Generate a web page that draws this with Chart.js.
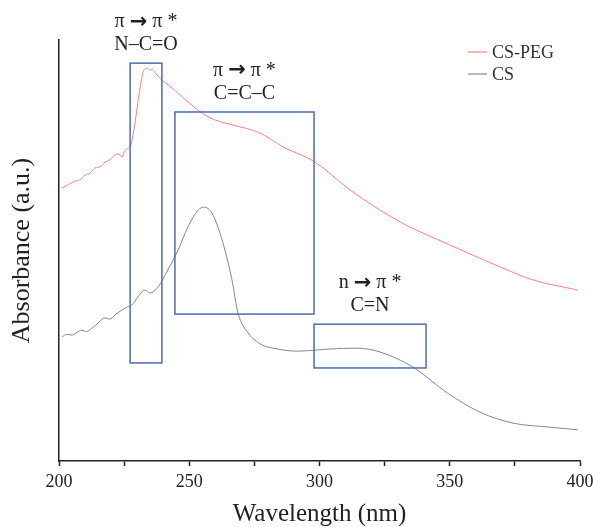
<!DOCTYPE html>
<html>
<head>
<meta charset="utf-8">
<script src="https://cdn.jsdelivr.net/npm/chart.js@4.4.1/dist/chart.umd.min.js"></script>
<style>
  html, body { margin: 0; padding: 0; background: #fff; }
  #wrap { width: 593px; height: 527px; }
</style>
</head>
<body>
<div id="wrap"><canvas id="myChart"></canvas></div>
<script>
// CS-PEG spectrum (wavelength nm, absorbance a.u.)
const pegWave = [201.0, 203.5, 206.1, 208.0, 210.0, 212.0, 213.8, 215.8, 217.7, 219.6, 221.5, 223.0, 224.2, 225.3, 227.6, 229.2, 231.1, 232.3, 233.8, 235.0, 235.7, 236.9, 239.5, 243.4, 249.5, 256.0, 259.9, 266.8, 277.2, 286.0, 298.3, 311.7, 330.9, 350.1, 369.3, 382.0, 399.2];
const pegAbs  = [0.648, 0.656, 0.665, 0.668, 0.679, 0.684, 0.696, 0.699, 0.710, 0.716, 0.727, 0.729, 0.722, 0.738, 0.751, 0.805, 0.886, 0.924, 0.933, 0.928, 0.931, 0.922, 0.905, 0.886, 0.853, 0.822, 0.810, 0.798, 0.779, 0.746, 0.710, 0.644, 0.568, 0.513, 0.461, 0.430, 0.406];

// CS spectrum
const csWave = [201.2, 203.0, 205.0, 207.0, 208.8, 210.5, 212.7, 214.0, 215.0, 217.7, 219.5, 221.5, 225.3, 228.0, 233.0, 234.9, 238.0, 241.8, 245.7, 249.5, 253.4, 255.7, 258.7, 261.0, 263.7, 266.4, 268.7, 272.6, 277.9, 282.2, 291.4, 304.0, 314.4, 323.2, 335.9, 349.0, 361.6, 374.3, 387.3, 399.2];
const csAbs  = [0.295, 0.301, 0.299, 0.306, 0.311, 0.307, 0.316, 0.322, 0.328, 0.340, 0.337, 0.347, 0.363, 0.371, 0.406, 0.399, 0.413, 0.454, 0.501, 0.556, 0.596, 0.603, 0.589, 0.556, 0.501, 0.430, 0.352, 0.304, 0.276, 0.268, 0.261, 0.266, 0.268, 0.259, 0.223, 0.162, 0.116, 0.090, 0.081, 0.074];

const seriesNames = ['CS-PEG', 'CS'];

// highlighted transition regions
const boxFrom  = ['π', 'π', 'n'];
const boxTo    = ['π *', 'π *', 'π *'];
const boxGroups = ['N–C=O', 'C=C–C', 'C=N'];
const boxWaveFrom = [227.3, 244.5, 297.9];
const boxWaveTo   = [239.5, 297.9, 340.9];
const boxAbsLow   = [0.233, 0.349, 0.221];
const boxAbsHigh  = [0.945, 0.829, 0.325];

const xTicks = [200, 250, 300, 350, 400];

const toPoints = (xs, ys) => xs.map((x, i) => ({ x: x, y: ys[i] }));

const serif = "'Liberation Serif', 'Times New Roman', serif";
const arrowFont = "bold 21px 'DejaVu Sans', sans-serif";

const regionPlugin = {
    id: 'regions',
    afterDatasetsDraw(chart) {
        const { ctx, scales: { x, y } } = chart;
        ctx.save();
        ctx.strokeStyle = '#4a6db3';
        ctx.lineWidth = 1.5;
        boxGroups.forEach((group, i) => {
            const x0 = x.getPixelForValue(boxWaveFrom[i]);
            const x1 = x.getPixelForValue(boxWaveTo[i]);
            const y0 = y.getPixelForValue(boxAbsHigh[i]);
            const y1 = y.getPixelForValue(boxAbsLow[i]);
            ctx.strokeRect(x0, y0, x1 - x0, y1 - y0);

            const cx = (x0 + x1) / 2;
            ctx.fillStyle = '#222';
            ctx.textBaseline = 'middle';

            // "a → b" with a heavy arrow
            ctx.font = `20px ${serif}`;
            const left = boxFrom[i] + ' ';
            const right = ' ' + boxTo[i];
            const wl = ctx.measureText(left).width;
            const wr = ctx.measureText(right).width;
            ctx.font = arrowFont;
            const wa = ctx.measureText('→').width;
            let sx = cx - (wl + wa + wr) / 2;
            const ty = y0 - 41;
            ctx.textAlign = 'left';
            ctx.font = `20px ${serif}`;
            ctx.fillText(left, sx, ty);
            ctx.font = arrowFont;
            ctx.fillText('→', sx + wl, ty);
            ctx.font = `20px ${serif}`;
            ctx.fillText(right, sx + wl + wa, ty);

            ctx.textAlign = 'center';
            ctx.font = `20px ${serif}`;
            ctx.fillText(group, cx, y0 - 18);
        });

        // legend
        const lx = chart.chartArea.right - 112;
        const ly = chart.chartArea.top + 12;
        ctx.font = `18px ${serif}`;
        ctx.textAlign = 'left';
        chart.data.datasets.forEach((ds, i) => {
            const yy = ly + i * 22;
            ctx.strokeStyle = ds.borderColor;
            ctx.lineWidth = 1.2;
            ctx.beginPath();
            ctx.moveTo(lx, yy);
            ctx.lineTo(lx + 19, yy);
            ctx.stroke();
            ctx.fillStyle = '#333';
            ctx.fillText(ds.label, lx + 24, yy + 1);
        });
        ctx.restore();
    }
};

const ctx = document.getElementById('myChart');

new Chart(ctx, {
    type: 'line',
    data: {
        datasets: [{
            label: seriesNames[0],
            data: toPoints(pegWave, pegAbs),
            borderColor: 'rgb(255, 128, 128)',
            borderWidth: 1,
            pointRadius: 0,
            tension: 0.3,
            cubicInterpolationMode: 'monotone'
        }, {
            label: seriesNames[1],
            data: toPoints(csWave, csAbs),
            borderColor: 'rgb(135, 135, 135)',
            borderWidth: 1,
            pointRadius: 0,
            tension: 0.3,
            cubicInterpolationMode: 'monotone'
        }]
    },
    options: {
        responsive: true,
        maintainAspectRatio: false,
        animation: false,
        layout: { padding: { top: 40, left: 9, right: 13, bottom: 0 } },
        plugins: {
            legend: { display: false },
            tooltip: { enabled: false }
        },
        scales: {
            x: {
                type: 'linear',
                min: 200,
                max: 400,
                afterFit: (s) => { s.height = 66; s.paddingLeft = 0; s.paddingRight = 0; },
                border: { color: '#222', width: 1.5 },
                grid: { drawOnChartArea: false, tickLength: 5, tickColor: '#222', tickWidth: 1.5 },
                ticks: {
                    stepSize: 25,
                    padding: 5,
                    color: '#222',
                    maxRotation: 0,
                    font: { family: serif, size: 18 },
                    callback: (v) => xTicks.includes(v) ? v : ''
                },
                title: {
                    display: true,
                    text: 'Wavelength (nm)',
                    color: '#222',
                    font: { family: serif, size: 25, lineHeight: 1 },
                    padding: { top: 9, bottom: 0 }
                }
            },
            y: {
                min: 0,
                max: 1,
                afterFit: (s) => { s.width = 50; },
                border: { color: '#222', width: 1.5 },
                grid: { display: false },
                ticks: { display: false },
                title: {
                    display: true,
                    text: 'Absorbance (a.u.)',
                    color: '#222',
                    font: { family: serif, size: 26, lineHeight: 1 },
                    padding: { top: 0, bottom: 24 }
                }
            }
        }
    },
    plugins: [regionPlugin]
});
</script>
</body>
</html>
